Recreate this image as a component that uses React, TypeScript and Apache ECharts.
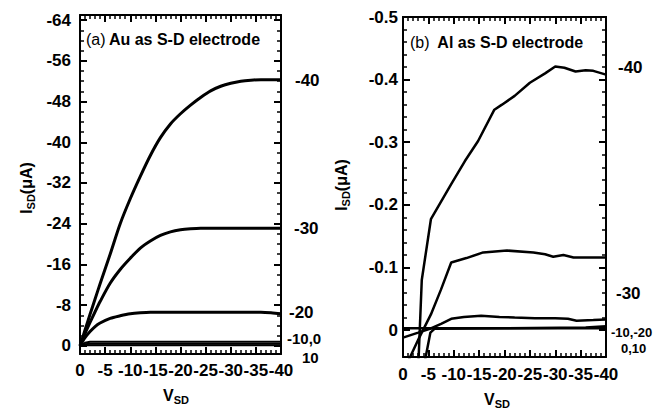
import React, { useEffect, useRef } from 'react';
import * as echarts from 'echarts';

const FONT = '"Liberation Sans", Arial, Helvetica, sans-serif';

// ---------- Panel (a): Au as S-D electrode ----------
const auVsd = [0, -1, -2, -3, -4, -6, -8, -10, -12, -14, -16, -18, -20, -22, -24, -26, -28, -30, -32, -34, -36, -38, -40];
const auIg40 = [0, -3.1, -6.2, -9.2, -12.2, -18, -24, -28.9, -33.3, -37.4, -40.9, -43.6, -45.6, -47.3, -48.8, -50.1, -51, -51.6, -52, -52.2, -52.3, -52.3, -52.3];
const auIg30 = [0, -2.4, -4.6, -6.7, -8.7, -12.3, -15, -17.2, -19.2, -20.6, -21.7, -22.4, -22.8, -23, -23.1, -23.1, -23.1, -23.1, -23.1, -23.1, -23.1, -23.1, -23.1];
const auIg20 = [0, -1.6, -2.8, -3.8, -4.5, -5.4, -5.9, -6.3, -6.5, -6.6, -6.6, -6.6, -6.6, -6.6, -6.6, -6.6, -6.6, -6.6, -6.6, -6.6, -6.6, -6.5, -6.3];
const auIg10 = [0, -0.6, -0.8, -0.8, -0.8, -0.8, -0.8, -0.8, -0.8, -0.8, -0.8, -0.8, -0.8, -0.8, -0.8, -0.8, -0.8, -0.8, -0.8, -0.8, -0.8, -0.8, -0.8];
const auIg0 = [0, -0.3, -0.4, -0.4, -0.4, -0.4, -0.4, -0.4, -0.4, -0.4, -0.4, -0.4, -0.4, -0.4, -0.4, -0.4, -0.4, -0.4, -0.4, -0.4, -0.4, -0.4, -0.4];
const auIgP10 = [0, -0.1, -0.1, -0.1, -0.1, -0.1, -0.1, -0.1, -0.1, -0.1, -0.1, -0.1, -0.1, -0.1, -0.1, -0.1, -0.1, -0.1, -0.1, -0.1, -0.1, -0.1, -0.1];

const auYRange = [-65, 1.6];
const auYTickRange = [-64, 0];
const auYInterval = 8;
const xRange = [-40, 0];
const xInterval = 5;

// ---------- Panel (b): Al as S-D electrode ----------
const alV40 = [-3.05, -3.7, -5.5, -9.5, -12.2, -14.8, -18, -19.5, -22, -25, -28, -30, -31.8, -34, -36, -37.5, -40];
const alI40 = [0.05, -0.08, -0.177, -0.233, -0.27, -0.302, -0.352, -0.36, -0.374, -0.395, -0.41, -0.421, -0.419, -0.413, -0.415, -0.414, -0.408];
const alV30 = [-1.0, -3.2, -5.5, -7.5, -9.5, -12.5, -15.8, -20.5, -25.7, -28, -29.6, -31.6, -33.6, -40];
const alI30 = [0.05, 0.012, -0.025, -0.065, -0.108, -0.115, -0.124, -0.127, -0.124, -0.121, -0.117, -0.12, -0.116, -0.116];
const alV20 = [0, -3, -5.6, -7.5, -9.5, -12, -15.4, -19, -22, -26, -30, -32.5, -34.2, -37.5, -40];
const alI20 = [0.012, 0.004, -0.003, -0.01, -0.018, -0.021, -0.023, -0.021, -0.02, -0.019, -0.019, -0.018, -0.015, -0.016, -0.017];
const alV10 = [-4.3, -5.4, -6.2, -20, -36, -40];
const alI10 = [0.05, 0.004, -0.002, -0.003, -0.004, -0.006];
const alV0 = [0, -40];
const alI0 = [-0.003, -0.003];

const alYRange = [-0.5, 0.043];
const alYTickRange = [-0.5, 0];
const alYInterval = 0.1;

const GRID_A = { left: 80, top: 15, width: 201, height: 339 };
const GRID_B = { left: 403, top: 17, width: 203, height: 340 };

function pairs(xs: number[], ys: number[]) {
  return xs.map((x, i) => [x, ys[i]]);
}

// sub-grid whose vertical span covers only the tick range inside the full (inverted) y range
function tickGrid(g: { left: number; top: number; width: number; height: number }, full: number[], ticks: number[]) {
  const span = full[1] - full[0];
  const top = g.top + (g.height * (ticks[0] - full[0])) / span;
  const bottom = g.top + (g.height * (ticks[1] - full[0])) / span;
  return { left: g.left, top, width: g.width, height: bottom - top };
}

const boxLine = { color: '#000', width: 2 };
const labelStyle = { color: '#000', fontSize: 17, fontWeight: 'bold', fontFamily: FONT };
const majorTick = { show: true, inside: true, length: 7, lineStyle: { color: '#000', width: 2 } };
const minorTick = { show: true, splitNumber: 5, length: 4, lineStyle: { color: '#000', width: 1.5 } };

function xAxesFor(gridIndex: number, margin: number) {
  const base = {
    type: 'value',
    gridIndex,
    min: xRange[0],
    max: xRange[1],
    interval: xInterval,
    inverse: true,
    splitLine: { show: false },
    axisLine: { show: true, onZero: false, lineStyle: boxLine },
    axisTick: majorTick,
    minorTick,
  };
  return [
    { ...base, position: 'bottom', axisLabel: { show: true, margin, formatter: (v: number) => String(v), ...labelStyle } },
    { ...base, position: 'top', axisLabel: { show: false } },
  ];
}

function boxYAxes(gridIndex: number, range: number[]) {
  const base = {
    type: 'value',
    gridIndex,
    min: range[0],
    max: range[1],
    inverse: true,
    splitLine: { show: false },
    axisLine: { show: true, onZero: false, lineStyle: boxLine },
    axisTick: { show: false },
    axisLabel: { show: false },
  };
  return [
    { ...base, position: 'left' },
    { ...base, position: 'right' },
  ];
}

function tickYAxes(gridIndex: number, range: number[], interval: number, split: number, fmt: (v: number) => string, margin: number) {
  const base = {
    type: 'value',
    gridIndex,
    min: range[0],
    max: range[1],
    interval,
    inverse: true,
    splitLine: { show: false },
    axisLine: { show: true, onZero: false, lineStyle: { color: '#000', width: 2 } },
    axisTick: majorTick,
    minorTick: { ...minorTick, splitNumber: split },
  };
  return [
    { ...base, position: 'left', axisLabel: { show: true, margin, formatter: fmt, ...labelStyle } },
    { ...base, position: 'right', axisLabel: { show: false } },
  ];
}

function hiddenX(gridIndex: number) {
  return { type: 'value', gridIndex, min: xRange[0], max: xRange[1], show: false };
}

function lineSeries(data: number[][], xi: number, yi: number, width: number, smooth: boolean) {
  return {
    type: 'line',
    data,
    xAxisIndex: xi,
    yAxisIndex: yi,
    showSymbol: false,
    symbol: 'none',
    smooth: smooth ? 0.3 : false,
    clip: true,
    lineStyle: { color: '#000', width },
    silent: true,
  };
}

function txt(x: number, y: number, text: string, size: number) {
  return {
    type: 'text',
    x,
    y,
    style: { text, fontSize: size, fontWeight: 'bold', fontFamily: FONT, fill: '#000', align: 'left', verticalAlign: 'middle' },
  };
}

function richName(x: number, y: number, main: string, sub: string, tail: string, rotate: boolean) {
  return {
    type: 'text',
    x,
    y,
    rotation: rotate ? Math.PI / 2 : 0,
    style: {
      text: `{m|${main}}{s|${sub}}${tail ? `{m|${tail}}` : ''}`,
      align: 'center',
      verticalAlign: 'middle',
      fill: '#000',
      rich: {
        m: { fontSize: 16, fontWeight: 'bold', fontFamily: FONT, fill: '#000' },
        s: { fontSize: 11, fontWeight: 'bold', fontFamily: FONT, fill: '#000', padding: [10, 0, 0, 0] },
      },
    },
  };
}

function title(x: number, y: number, tag: string, body: string) {
  return {
    type: 'text',
    x,
    y,
    style: {
      text: `{r|${tag}} {b|${body}}`,
      verticalAlign: 'middle',
      rich: {
        r: { fontSize: 16, fontFamily: FONT, fill: '#000' },
        b: { fontSize: 16, fontWeight: 'bold', fontFamily: FONT, fill: '#000' },
      },
    },
  };
}

export default function App() {
  const ref = useRef<HTMLDivElement>(null);
  useEffect(() => {
    if (!ref.current) return;
    const chart = echarts.init(ref.current, undefined, { renderer: 'svg' });
    const fmtInt = (v: number) => String(v);
    const fmtDec = (v: number) => (Math.abs(v) < 1e-9 ? '0' : v.toFixed(1));

    // grids: 0 = box A, 1 = y-ticks A, 2 = box B, 3 = y-ticks B
    const grids = [GRID_A, tickGrid(GRID_A, auYRange, auYTickRange), GRID_B, tickGrid(GRID_B, alYRange, alYTickRange)];

    // x: 0,1 = A (bottom, top); 2 = hidden (grid 1); 3,4 = B; 5 = hidden (grid 3)
    const xAxis = [...xAxesFor(0, 8), hiddenX(1), ...xAxesFor(2, 9), hiddenX(3)];
    // y: 0,1 = A box; 2,3 = A ticks/labels; 4,5 = B box; 6,7 = B ticks/labels
    const yAxis = [
      ...boxYAxes(0, auYRange),
      ...tickYAxes(1, auYTickRange, auYInterval, 4, fmtInt, 9),
      ...boxYAxes(2, alYRange),
      ...tickYAxes(3, alYTickRange, alYInterval, 5, fmtDec, 5),
    ];

    chart.setOption({
      animation: false,
      backgroundColor: '#fff',
      grid: grids,
      xAxis,
      yAxis,
      series: [
        lineSeries(pairs(auVsd, auIg40), 0, 0, 3, true),
        lineSeries(pairs(auVsd, auIg30), 0, 0, 3, true),
        lineSeries(pairs(auVsd, auIg20), 0, 0, 3, true),
        lineSeries(pairs(auVsd, auIg10), 0, 0, 2, false),
        lineSeries(pairs(auVsd, auIg0), 0, 0, 2, false),
        lineSeries(pairs(auVsd, auIgP10), 0, 0, 2, false),
        lineSeries(pairs(alV40, alI40), 3, 4, 2.5, false),
        lineSeries(pairs(alV30, alI30), 3, 4, 2.5, false),
        lineSeries(pairs(alV20, alI20), 3, 4, 2.5, false),
        lineSeries(pairs(alV10, alI10), 3, 4, 2.5, false),
        lineSeries(pairs(alV0, alI0), 3, 4, 2.5, false),
      ],
      graphic: [
        title(86, 39, '(a)', 'Au as S-D electrode'),
        title(410, 42, '(b) ', 'Al as S-D electrode'),
        txt(295, 80, '-40', 17),
        txt(294, 228, '-30', 17),
        txt(289, 312, '-20', 17),
        txt(287, 338, '-10,0', 15),
        txt(302, 357, '10', 15),
        txt(618, 67, '-40', 17),
        txt(616, 293, '-30', 17),
        txt(611, 332, '-10,-20', 13),
        txt(621, 348, '0,10', 13),
        richName(26, 188, 'I', 'SD', '(μA)', true),
        richName(341, 185, 'I', 'SD', '(μA)', true),
        richName(176, 395, 'V', 'SD', '', false),
        richName(497, 399, 'V', 'SD', '', false),
      ],
    });
    return () => chart.dispose();
  }, []);
  return (
    <div
      ref={ref}
      style={{ position: 'fixed', left: 0, top: 0, width: 662, height: 410, background: '#fff' }}
    />
  );
}
